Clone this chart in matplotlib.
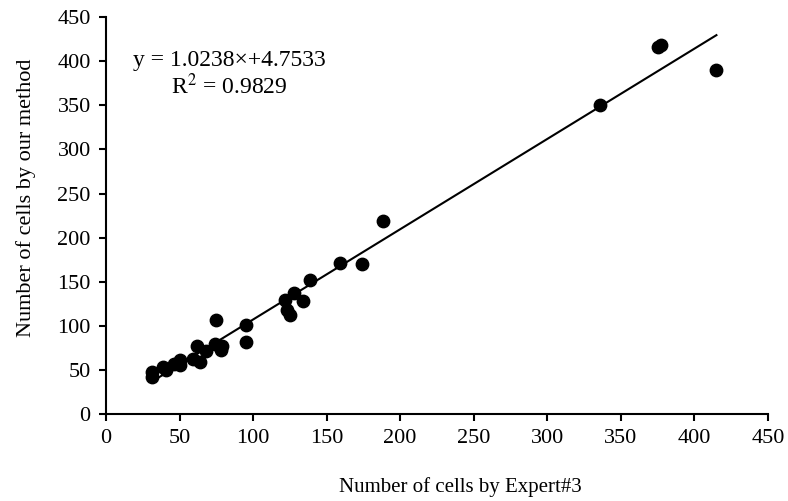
import matplotlib.pyplot as plt
import numpy as np

plt.rcParams['font.family'] = ['Liberation Serif', 'DejaVu Serif']
plt.rcParams['mathtext.fontset'] = 'stix'

# data
expert3 = [31, 31, 39, 41, 46, 50, 50, 59, 64, 62, 68, 74, 79, 78, 75, 95, 95,
           122, 123, 125, 128, 134, 139, 159, 174, 188, 336, 375, 377, 415]
ours = [48, 42, 53, 50, 57, 61, 55, 62, 59, 77, 71, 79, 77, 72, 107, 101, 82,
        129, 118, 112, 137, 128, 152, 171, 170, 219, 350, 416, 418, 390]
slope = 1.0238
intercept = 4.7533
r2 = 0.9829

fig = plt.figure(figsize=(7.88, 5.01), dpi=100)
ax = fig.add_axes([0.1345, 0.1737, 0.840, 0.792])

ax.scatter(expert3, ours, s=80, color='black', zorder=3)
xs = np.array([min(expert3), max(expert3)])
ax.plot(xs, slope * xs + intercept, color='black', lw=1.5)

ax.set_xlim(0, 450)
ax.set_ylim(0, 450)
ax.set_xticks(np.arange(0, 451, 50))
ax.set_yticks(np.arange(0, 451, 50))
ax.spines['top'].set_visible(False)
ax.spines['right'].set_visible(False)
ax.spines['left'].set_linewidth(1.5)
ax.spines['bottom'].set_linewidth(1.5)
ax.tick_params(direction='out', length=5, width=1.5, labelsize=16, pad=6)

ax.set_xlabel('Number of cells by Expert#3', fontsize=15)
ax.set_ylabel('Number of cells by our method', fontsize=16)
ax.xaxis.set_label_coords(0.536, -0.158)
ax.yaxis.set_label_coords(-0.105, 0.545)

ax.text(84, 401, 'y = %.4f\u00d7+%.4f' % (slope, intercept), fontsize=17,
        ha='center', va='center')
ax.text(84, 371, 'R$^2$ = %.4f' % r2, fontsize=17, ha='center', va='center')

plt.savefig('out.png', dpi=100)
